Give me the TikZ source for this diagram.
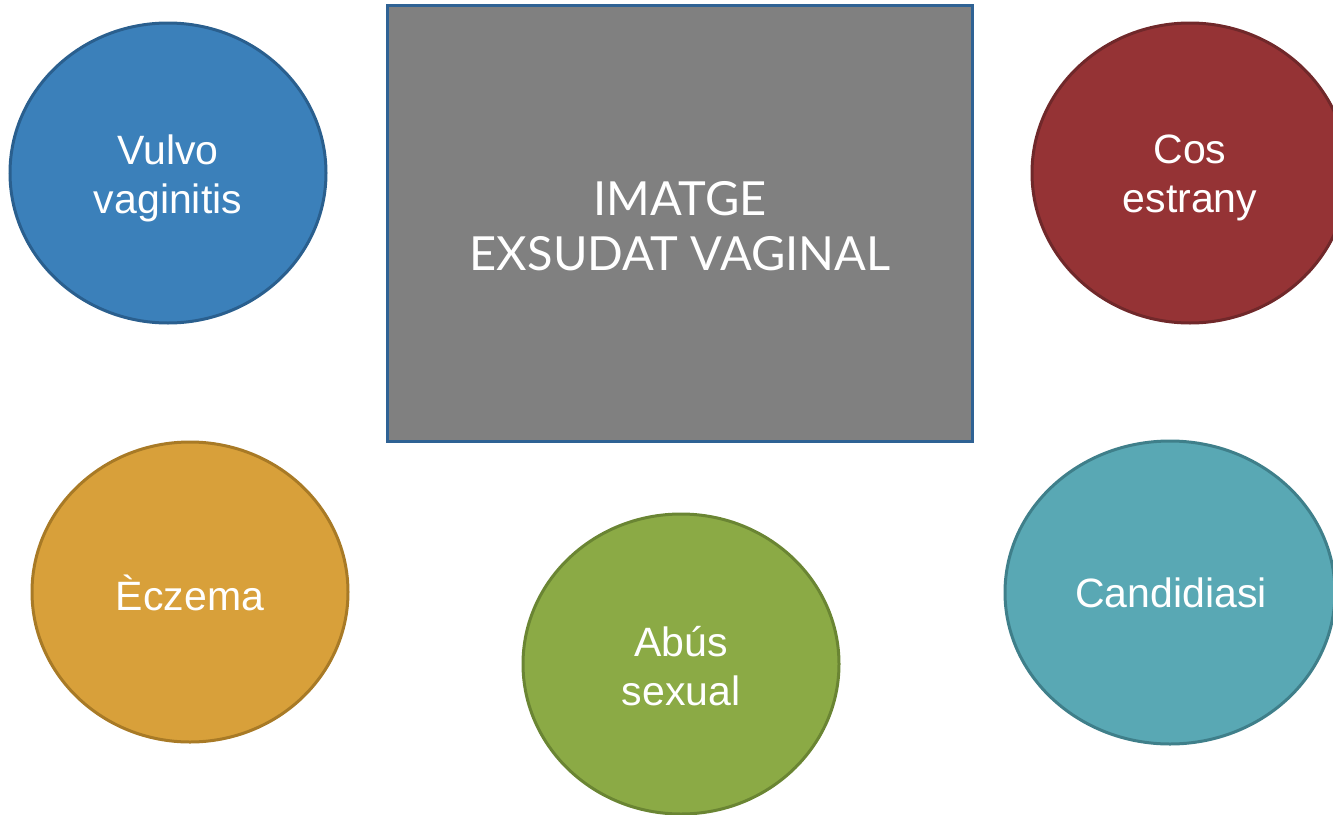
\documentclass[tikz,border=0pt]{standalone}
\usepackage{fontspec}
\setmainfont{Liberation Sans}
\newfontfamily\latofont{Lato}
\usetikzlibrary{shapes.geometric}
\definecolor{bluef}{HTML}{3B80BA}
\definecolor{blued}{HTML}{2A5F8E}
\definecolor{redf}{HTML}{953335}
\definecolor{redd}{HTML}{70282A}
\definecolor{orangef}{HTML}{D8A03A}
\definecolor{oranged}{HTML}{A87A26}
\definecolor{greenf}{HTML}{8BAA45}
\definecolor{greend}{HTML}{6A8533}
\definecolor{tealf}{HTML}{59A8B4}
\definecolor{teald}{HTML}{3F7F8A}
\definecolor{grayf}{HTML}{808080}
\definecolor{rectd}{HTML}{2F6294}
\tikzset{
  blob/.style={ellipse, inner sep=0pt, line width=3pt, minimum width=316pt, minimum height=300pt},
  blobtext/.style={text=white, align=center, inner sep=0pt, font=\fontsize{41}{49}\selectfont},
  imgbox/.style={rectangle, inner sep=0pt, line width=3pt, fill=grayf, draw=rectd,
    minimum width=585pt, minimum height=436pt},
  imgtext/.style={text=white, align=center, inner sep=0pt, font=\latofont\fontsize{47}{55}\selectfont}
}
\begin{document}
\begin{tikzpicture}[x=1pt,y=-1pt]
\useasboundingbox (0,0) rectangle (1333,814);
\clip (0,0) rectangle (1333,814);
\node[imgbox, label={[imgtext, yshift=-3pt]center:IMATGE\\EXSUDAT VAGINAL}] (img) at (680,223.5) {};
\node[blob, fill=bluef, draw=blued, label={[blobtext, yshift=-5pt]center:Vulvo\\vaginitis}] (vulvo) at (168,173) {};
\node[blob, fill=redf, draw=redd, label={[blobtext, yshift=-5pt]center:Cos\\estrany}] (cos) at (1190,173) {};
\node[blob, fill=orangef, draw=oranged, label={[blobtext, yshift=-1pt]center:Èczema}] (eczema) at (190,592) {};
\node[blob, fill=greenf, draw=greend, label={[blobtext, yshift=-2pt]center:Abús\\sexual}] (abus) at (681,664) {};
\node[blob, fill=tealf, draw=teald, minimum width=330pt, minimum height=303pt, label={[blobtext, xshift=1pt]center:Candidiasi}] (cand) at (1170,592.5) {};
\end{tikzpicture}
\end{document}
